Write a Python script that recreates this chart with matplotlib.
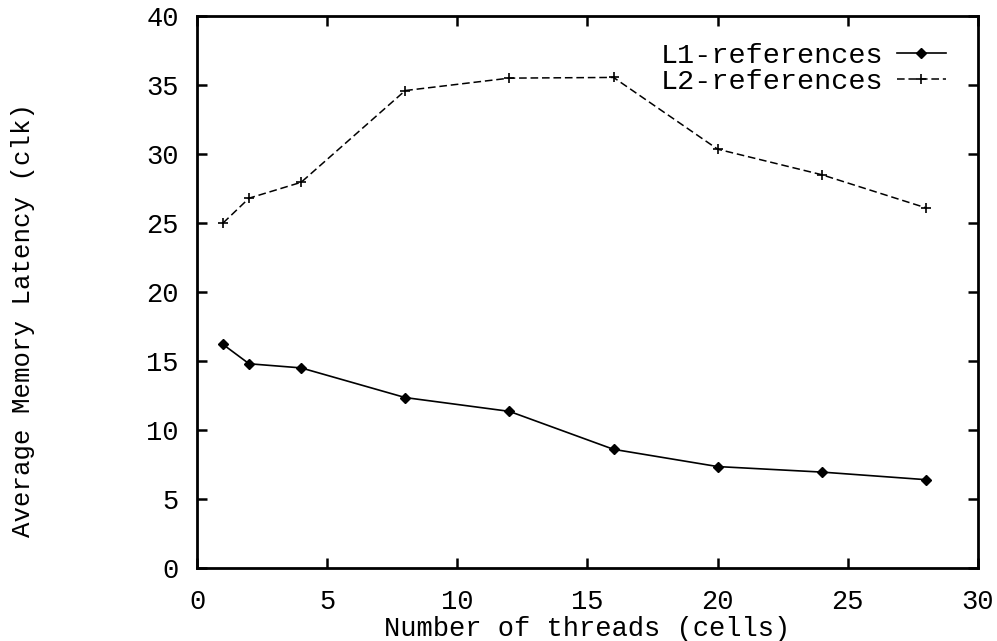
import numpy as np
import matplotlib.pyplot as plt

threads = [1, 2, 4, 8, 12, 16, 20, 24, 28]
l1_refs = [16.2, 14.8, 14.5, 12.35, 11.35, 8.6, 7.35, 6.95, 6.4]
l2_refs = [25.0, 26.8, 27.95, 34.6, 35.5, 35.55, 30.35, 28.5, 26.1]

plt.rcParams['font.family'] = ['Liberation Mono', 'DejaVu Sans Mono']

fig = plt.figure(figsize=(9.97, 6.41), dpi=100)
ax = fig.add_axes([0.1976, 0.1139, 0.7833, 0.8611])

ax.plot(threads, l1_refs, color='black', lw=1.2, marker='D', ms=5.5,
        label='L1-references')
ax.plot(threads, l2_refs, color='black', lw=1.1, dashes=(5, 2.5), marker='+',
        ms=7, mew=1.2, label='L2-references')

ax.set_xlim(0, 30)
ax.set_ylim(0, 40)
ax.set_xticks(np.arange(0, 31, 5))
ax.set_yticks(np.arange(0, 41, 5))
ax.tick_params(direction='in', length=7, width=1.8, top=True, right=True,
               labelsize=19.5)
ax.tick_params(axis='x', pad=15)
ax.tick_params(axis='y', pad=13)
for s in ax.spines.values():
    s.set_linewidth(2)

ax.set_xlabel('Number of threads (cells)', fontsize=19.5, labelpad=1)
ax.set_ylabel('Average Memory Latency (clk)', fontsize=18.5)
ax.yaxis.set_label_coords(-0.207, 0.449)

ax.legend(loc='upper right', frameon=False, markerfirst=False, fontsize=20.5,
          handlelength=1.7, handletextpad=0.5, labelspacing=0.0,
          borderaxespad=0.3, bbox_to_anchor=(0.984, 0.988))

fig.savefig('out.png', dpi=100)
